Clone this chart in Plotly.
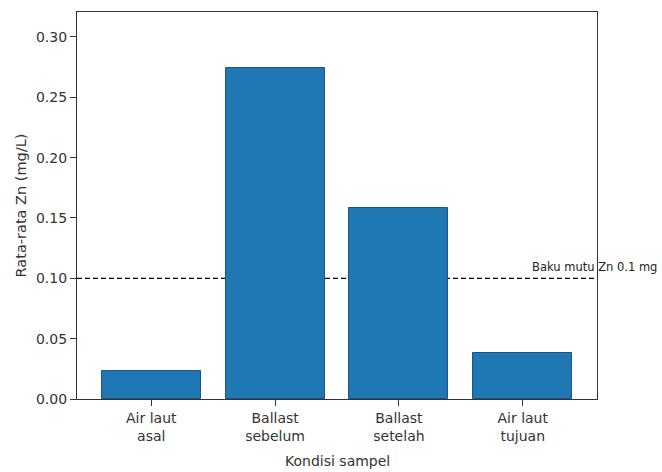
import plotly.graph_objects as go

categories = ["Air laut<br>asal", "Ballast<br>sebelum", "Ballast<br>setelah", "Air laut<br>tujuan"]
values = [0.023, 0.274, 0.158, 0.038]
baku_mutu = 0.1
y_ticks = [0.00, 0.05, 0.10, 0.15, 0.20, 0.25, 0.30]

fig = go.Figure()
fig.add_trace(go.Bar(
    x=list(range(len(categories))), y=values, width=0.8,
    marker=dict(color="#1f77b4", line=dict(color="#1a5582", width=1)),
))
fig.add_shape(type="line", xref="paper", yref="y", x0=0, x1=1, y0=baku_mutu, y1=baku_mutu,
              layer="below", line=dict(color="black", width=1.3, dash="5px,3px"))
fig.add_annotation(x=3.06, y=baku_mutu, xref="x", yref="y", text="Baku mutu Zn 0.1 mg",
                   showarrow=False, xanchor="left", yanchor="bottom", yshift=2,
                   font=dict(family="DejaVu Sans", size=11.5, color="#222"))
fig.add_annotation(x=0.5, y=0, xref="paper", yref="paper", text="Kondisi sampel",
                   showarrow=False, xanchor="center", yanchor="middle", yshift=-62,
                   font=dict(family="DejaVu Sans", size=14, color="#333"))

axis_common = dict(showline=True, linecolor="#333", linewidth=1.2, mirror=True,
                   ticks="outside", ticklen=6, tickcolor="#333", showgrid=False, zeroline=False,
                   tickfont=dict(family="DejaVu Sans", size=14, color="#333"))
fig.update_xaxes(range=[-0.6, 3.6], tickmode="array", tickvals=list(range(len(categories))),
                 ticktext=categories, automargin=False, **axis_common)
fig.update_yaxes(range=[0, 0.3207], tickmode="array", tickvals=y_ticks,
                 ticktext=[f"{v:.2f}" for v in y_ticks],
                 title=dict(text="Rata-rata Zn (mg/L)", standoff=5,
                 font=dict(family="DejaVu Sans", size=14.5, color="#333")), **axis_common)
fig.update_layout(width=662, height=472, margin=dict(l=77, r=65, t=12, b=73),
                  plot_bgcolor="rgba(0,0,0,0)", paper_bgcolor="white", showlegend=False,
                  bargap=0)
fig.write_html("out.html")
